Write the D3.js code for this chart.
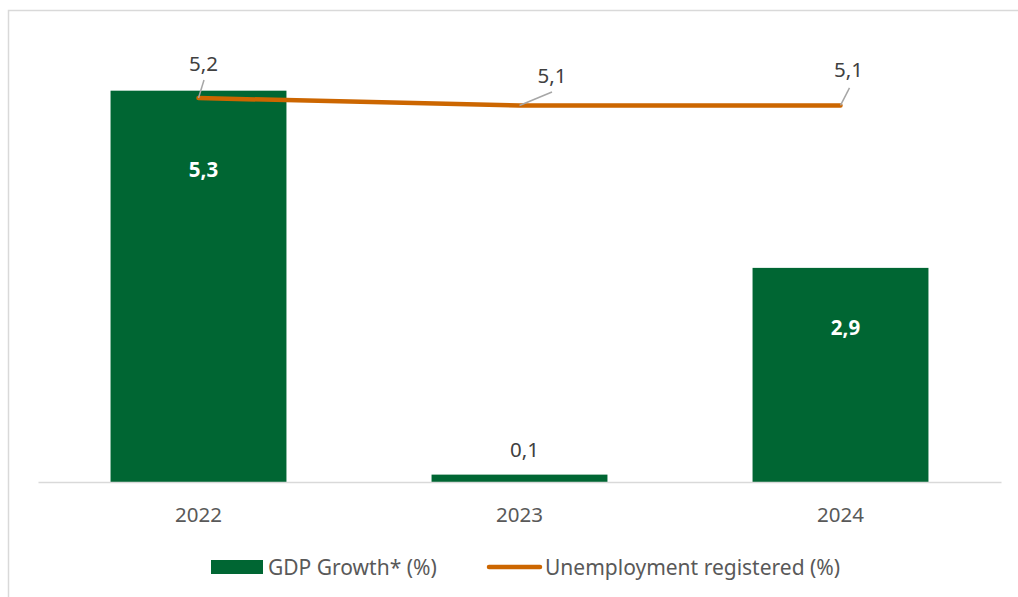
<!DOCTYPE html>
<html>
<head>
<meta charset="utf-8">
<script src="https://cdn.jsdelivr.net/npm/d3@7"></script>
<style>
  html, body { margin: 0; padding: 0; background: #fff; }
  svg { display: block; font-family: "Noto Sans", "Open Sans", sans-serif; }
</style>
</head>
<body>
<svg id="chart" width="1018" height="597"></svg>
<script>
// chart data
const years = ["2022", "2023", "2024"];
const gdpGrowth = [5.3, 0.1, 2.9];
const unemployment = [5.2, 5.1, 5.1];
const gdpLabels = ["5,3", "0,1", "2,9"];
const unempLabels = ["5,2", "5,1", "5,1"];

const barColor = "#006633";
const lineColor = "#cc6600";
const gridColor = "#d9d9d9";
const labelColor = "#404040";
const axisTextColor = "#595959";

// label placement (layout only)
const barLabelShift = [86, -18, 67];      // baseline relative to bar top
const barLabelInside = [true, false, true];
const lineLabelOffset = [[5, -27], [32.5, -22.5], [8, -28.5]];
const leaderEnd = [[5.5, -18], [32.5, -13.5], [9, -17.5]];

const svg = d3.select("#chart");

// outer frame
svg.append("rect")
    .attr("x", 8.5).attr("y", 10.5)
    .attr("width", 1040).attr("height", 620)
    .attr("fill", "none")
    .attr("stroke", gridColor)
    .attr("stroke-width", 1.5);

const x = d3.scaleBand()
    .domain(years)
    .range([38, 1001])
    .paddingInner(0.452)
    .paddingOuter(0.226);

const y = d3.scaleLinear()
    .domain([0, 6])
    .range([482, 39]);

// bars
svg.append("g")
    .selectAll("rect")
    .data(gdpGrowth)
    .join("rect")
    .attr("x", (d, i) => x(years[i]))
    .attr("y", d => y(d))
    .attr("width", x.bandwidth())
    .attr("height", d => y(0) - y(d))
    .attr("fill", barColor);

// x axis
const xAxis = svg.append("g")
    .attr("transform", `translate(0,${y(0)})`)
    .call(d3.axisBottom(x).tickSize(0).tickPadding(0).tickSizeOuter(0));
xAxis.select(".domain")
    .attr("stroke", gridColor)
    .attr("stroke-width", 1.5);
xAxis.selectAll("text")
    .attr("dy", 40)
    .attr("font-size", 20.5)
    .attr("font-family", "Noto Sans")
    .attr("fill", axisTextColor);

// bar labels
svg.append("g")
    .selectAll("text")
    .data(gdpGrowth)
    .join("text")
    .attr("x", (d, i) => x(years[i]) + x.bandwidth() / 2 + 5)
    .attr("y", (d, i) => y(d) + barLabelShift[i])
    .attr("text-anchor", "middle")
    .attr("font-size", 20.5)
    .attr("font-weight", (d, i) => barLabelInside[i] ? "bold" : "normal")
    .attr("fill", (d, i) => barLabelInside[i] ? "#ffffff" : labelColor)
    .text((d, i) => gdpLabels[i]);

// unemployment line
const linePoints = unemployment.map((v, i) => [x(years[i]) + x.bandwidth() / 2, y(v)]);
svg.append("path")
    .datum(linePoints)
    .attr("d", d3.line())
    .attr("fill", "none")
    .attr("stroke", lineColor)
    .attr("stroke-width", 4.5)
    .attr("stroke-linecap", "round")
    .attr("stroke-linejoin", "round");

// leader lines
svg.append("g")
    .selectAll("line")
    .data(linePoints)
    .join("line")
    .attr("x1", d => d[0])
    .attr("y1", d => d[1])
    .attr("x2", (d, i) => d[0] + leaderEnd[i][0])
    .attr("y2", (d, i) => d[1] + leaderEnd[i][1])
    .attr("stroke", "#a6a6a6")
    .attr("stroke-width", 1.5);

// line labels
svg.append("g")
    .selectAll("text")
    .data(linePoints)
    .join("text")
    .attr("x", (d, i) => d[0] + lineLabelOffset[i][0])
    .attr("y", (d, i) => d[1] + lineLabelOffset[i][1])
    .attr("text-anchor", "middle")
    .attr("font-size", 20.5)
    .attr("fill", labelColor)
    .text((d, i) => unempLabels[i]);

// legend
const legend = svg.append("g");
legend.append("rect")
    .attr("x", 211).attr("y", 560)
    .attr("width", 52).attr("height", 14)
    .attr("fill", barColor);
legend.append("text")
    .attr("x", 268).attr("y", 575)
    .attr("font-size", 21)
    .attr("fill", axisTextColor)
    .text("GDP Growth* (%)");
legend.append("line")
    .attr("x1", 489).attr("x2", 540)
    .attr("y1", 567).attr("y2", 567)
    .attr("stroke", lineColor)
    .attr("stroke-width", 4.5)
    .attr("stroke-linecap", "round");
legend.append("text")
    .attr("x", 545).attr("y", 575)
    .attr("font-size", 21)
    .attr("fill", axisTextColor)
    .text("Unemployment registered (%)");
</script>
</body>
</html>
